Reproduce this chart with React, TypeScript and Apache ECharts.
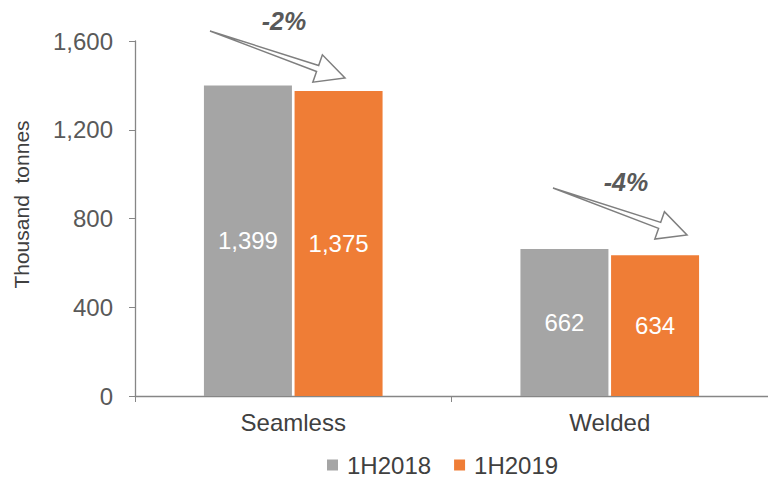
import React, { useEffect, useRef } from "react";
import * as echarts from "echarts";

const categories = ["Seamless", "Welded"];
const seriesNames = ["1H2018", "1H2019"];
const values2018 = [1399, 662];
const values2019 = [1375, 634];
const changeLabels = ["-2%", "-4%"];
const yTicks = [0, 400, 800, 1200, 1600];

const GRAY = "#A5A5A5";
const ORANGE = "#EF7D36";
const FONT = "'Liberation Sans', Arial, sans-serif";

// Hollow block arrow: tapered shaft from a point at the tail, open head at the tip.
function arrowPoints(tail: number[], tip: number[]) {
  const dx = tip[0] - tail[0];
  const dy = tip[1] - tail[1];
  const len = Math.hypot(dx, dy);
  const ux = dx / len;
  const uy = dy / len;
  const px = -uy;
  const py = ux;
  const headLen = 29;
  const headHalf = 14.5;
  const neckHalf = 3.2;
  const at = (a: number, p: number) => [tail[0] + ux * a + px * p, tail[1] + uy * a + py * p];
  const base = len - headLen;
  return [
    at(0, 0),
    at(base, -neckHalf),
    at(base, -headHalf),
    at(len, 0),
    at(base, headHalf),
    at(base, neckHalf),
  ];
}

const arrows = [
  { tail: [210, 31], tip: [345, 78], text: [284, 21] },
  { tail: [553, 188], tip: [687, 235], text: [626, 182] },
];

export default function App() {
  const ref = useRef<HTMLDivElement>(null);

  useEffect(() => {
    document.body.style.margin = "0";
    if (!ref.current) return;
    const chart = echarts.init(ref.current, undefined, { renderer: "svg" });

    const graphics: any[] = [];
    arrows.forEach((a, i) => {
      graphics.push({
        type: "polygon",
        shape: { points: arrowPoints(a.tail, a.tip) },
        style: { fill: "#ffffff", stroke: "#7F7F7F", lineWidth: 1.5 },
        silent: true,
      });
      graphics.push({
        type: "text",
        x: a.text[0],
        y: a.text[1],
        style: {
          text: changeLabels[i],
          fill: "#595959",
          font: `italic bold 25px ${FONT}`,
          textAlign: "center",
          textVerticalAlign: "middle",
        },
        silent: true,
      });
    });

    const barLabel = {
      show: true,
      position: "inside",
      color: "#ffffff",
      fontSize: 24,
      fontFamily: FONT,
      formatter: (p: any) => Number(p.value).toLocaleString("en-US"),
    };

    chart.setOption({
      animation: false,
      textStyle: { fontFamily: FONT },
      grid: { left: 135, right: -4, top: 41, bottom: 81, containLabel: false },
      legend: {
        data: seriesNames,
        top: 448,
        left: 322,
        itemWidth: 11,
        itemHeight: 11,
        itemGap: 23,
        icon: "rect",
        textStyle: { fontSize: 24, color: "#404040", fontFamily: FONT, padding: [0, 0, 0, 4] },
      },
      xAxis: {
        type: "category",
        data: categories,
        axisLine: { lineStyle: { color: "#868686", width: 1.3 } },
        axisTick: { show: true, length: 6, lineStyle: { color: "#868686" } },
        axisLabel: { fontSize: 24, color: "#404040", margin: 14, fontFamily: FONT },
      },
      yAxis: {
        type: "value",
        min: 0,
        max: 1600,
        interval: 400,
        name: "Thousand  tonnes",
        nameLocation: "middle",
        nameGap: 103,
        nameTextStyle: { fontSize: 21, color: "#404040", fontFamily: FONT, padding: [0, 0, 0, 28] },
        axisLine: { show: true, lineStyle: { color: "#868686", width: 1.3 } },
        axisTick: { show: true, length: 6, lineStyle: { color: "#868686" } },
        splitLine: { show: false },
        axisLabel: {
          fontSize: 24,
          color: "#595959",
          margin: 22,
          fontFamily: FONT,
          formatter: (v: number) => (yTicks.includes(v) ? v.toLocaleString("en-US") : ""),
        },
      },
      series: [
        {
          name: seriesNames[0],
          type: "bar",
          data: values2018,
          barWidth: 88,
          barGap: "3%",
          itemStyle: { color: GRAY },
          label: barLabel,
        },
        {
          name: seriesNames[1],
          type: "bar",
          data: values2019,
          barWidth: 88,
          itemStyle: { color: ORANGE },
          label: barLabel,
        },
      ],
      graphic: graphics,
    });

    return () => chart.dispose();
  }, []);

  return <div ref={ref} style={{ width: 768, height: 477, background: "#fff" }} />;
}
